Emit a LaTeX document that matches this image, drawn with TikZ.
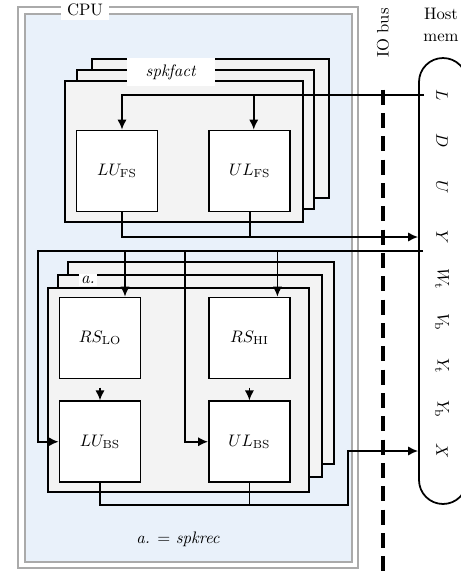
\documentclass[tikz,border=0pt]{standalone}
\usepackage{amsmath}
\usetikzlibrary{arrows.meta, calc, positioning}

\definecolor{cpublue}{RGB}{233,241,250}
\definecolor{pagegray}{RGB}{243,243,243}
\definecolor{framegray}{RGB}{170,170,170}

\tikzset{
	wire/.style={line width=1.05pt},
	flow/.style={wire, -{Latex[length=6pt,width=5.6pt]}},
	page/.style={draw, line width=1.05pt, fill=pagegray},
	unit/.style={draw, line width=1.05pt, fill=white, minimum width=48.6pt, minimum height=48.6pt, inner sep=0pt},
	tag/.style={fill=white, inner sep=1pt},
	slot/.style={rotate=-90}
}

\begin{document}
\begin{tikzpicture}[x=0.6pt, y=-0.6pt]
	\useasboundingbox (0,0) rectangle (461,574);
	
	% CPU frame
	\draw[framegray, line width=1pt, fill=white] (18,7) rectangle (358,568);
	\draw[framegray, line width=1pt, fill=cpublue] (25,14) rectangle (352,562);
	\node[tag, minimum width=28.8pt, minimum height=12pt] (cpu) at (85,10) {CPU};
	
	% spkfact stack
	\draw[page] (92,59) rectangle (329,198);
	\draw[page] (77,70) rectangle (314,209);
	\draw[page] (65,81) rectangle (303,222);
	\node[tag, minimum width=52.8pt, minimum height=17pt] (fact) at (171,72) {\textit{spkfact}};
	
	\node[unit] (LUfs) at (117,171) {$LU_{\mathrm{FS}}$};
	\node[unit, right=30pt of LUfs] (ULfs) {$UL_{\mathrm{FS}}$};
	
	% spkrec stack
	\draw[page] (68,262) rectangle (334,464);
	\draw[page] (58,275) rectangle (322,477);
	\node[tag, inner sep=1.2pt] (rec) at (88,280) {\textit{a.}};
	\draw[page] (48,288) rectangle (309,492);
	
	\node[unit] (RSlo) at (100,338) {$RS_{\mathrm{LO}}$};
	\node[unit, right=40pt of RSlo] (RShi) {$RS_{\mathrm{HI}}$};
	\node[unit, below=12.6pt of RSlo] (LUbs) {$LU_{\mathrm{BS}}$};
	\node[unit, below=12.6pt of RShi] (ULbs) {$UL_{\mathrm{BS}}$};
	
	\node (note) at (178,539) {\textit{a.} = \textit{spkrec}};
	
	% IO bus
	\node[rotate=90] (io) at (383,33) {IO bus};
	\coordinate (busend) at (383,576);
	\draw[line width=2.2pt, dash pattern=on 9pt off 5pt] ($(io.west)+(0,26)$) -- (busend);
	
	% host memory
	\node[align=center] (host) at (441,25) {Host\\[1.5pt]mem};
	\node[draw, line width=1.05pt, rounded corners=14.4pt, minimum width=28.8pt, minimum height=267.6pt, inner sep=0pt] (mem) at (443,281) {};
	\foreach \nm/\lab/\ypos in {L/L/95, D/D/141, U/U/187, Y/Y/237, Wt/W_{\mathrm{t}}/279, Vb/V_{\mathrm{b}}/322, Yt/Y_{\mathrm{t}}/366, Yb/Y_{\mathrm{b}}/409, X/X/451}
		\node[slot] (mem\nm) at (442,\ypos) {$\lab$};
	
	% L into the factor stack
	\coordinate (Lin) at ($(mem.west |- memL)+(6,0)$);
	\path ($(LUfs.north)+(5,0)$) coordinate (LUfsin) ($(ULfs.north)+(4,0)$) coordinate (ULfsin);
	\draw[flow] (Lin) -| (LUfsin);
	\draw[flow] (ULfsin |- Lin) -- (ULfsin);
	
	% Y back to memory
	\path ($(LUfs.south)+(5,0)$) coordinate (LUfsout);
	\draw[flow] (LUfsout) |- (mem.west |- memY);
	\draw[wire] (ULfs.south) -- (ULfs.south |- memY);
	
	% bus into the rec stack
	\coordinate (Rin) at (423,251);
	\coordinate (Rleft) at (38,251);
	\coordinate (Rmid) at (185,251);
	\path ($(RSlo.north)+(25,0)$) coordinate (RSloin) ($(RShi.north)+(28,0)$) coordinate (RShiin);
	\draw[flow] (Rin) -- (Rleft) |- (LUbs.west);
	\draw[flow] (RSloin |- Rin) -- (RSloin);
	\draw[flow] (RShiin |- Rin) -- (RShiin);
	\draw[flow] (Rmid) |- (ULbs.west);
	
	\draw[flow, shorten <=5pt] (RSlo) -- (LUbs);
	\draw[flow, shorten <=5pt] (RShi) -- (ULbs);
	
	% X back to memory
	\coordinate (Xturn) at (348,505);
	\draw[flow] (LUbs.south) |- (Xturn) |- (mem.west |- memX);
	\draw[wire] (ULbs.south) -- (ULbs.south |- Xturn);
\end{tikzpicture}
\end{document}
